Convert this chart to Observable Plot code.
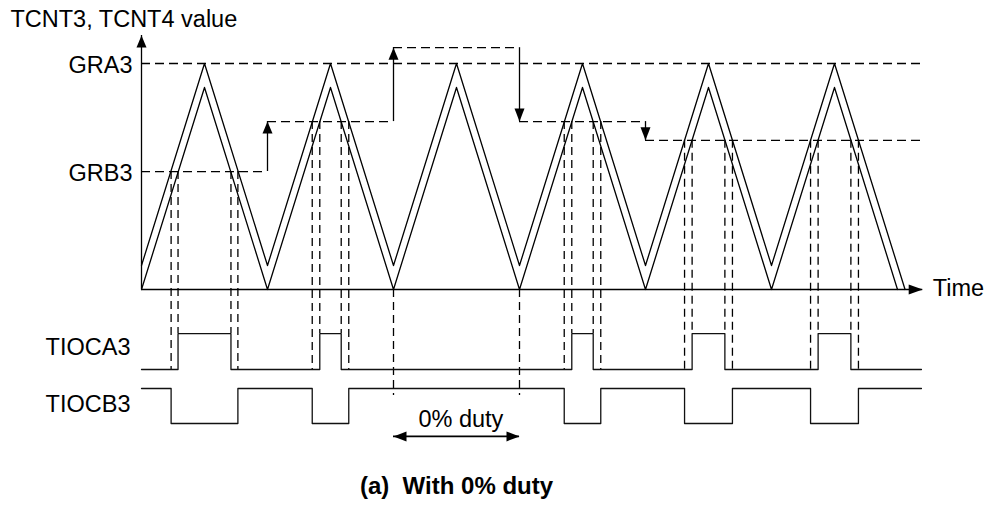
<!DOCTYPE html>
<html>
<head>
<meta charset="utf-8">
<script src="https://cdn.jsdelivr.net/npm/d3@7"></script>
<script src="https://cdn.jsdelivr.net/npm/@observablehq/plot@0.6"></script>
<style>
html, body { margin: 0; padding: 0; background: #fff; }
#chart svg { display: block; }
</style>
</head>
<body>
<div id="chart"></div>
<script>
// ---------- data (time in counter half-periods, value in % of GRA3) ----------
const GRA3 = 100;
const tcnt3Time  = [0, 1, 2, 3, 4, 5, 6, 7, 8, 9, 10, 11, 12.12];
const tcnt3Value = [10.6, 100, 10.6, 100, 10.6, 100, 10.6, 100, 10.6, 100, 10.6, 100, 0];
const tcnt4Time  = [0, 1, 2, 3, 4, 5, 6, 7, 8, 9, 10, 11, 12];
const tcnt4Value = [0, 89.4, 0, 89.4, 0, 89.4, 0, 89.4, 0, 89.4, 0, 89.4, 0];

const grbTime  = [0, 2, 4, 6, 8];
const grbValue = [52.2, 74.3, 107, 74.3, 66];

const levelLabels = ["GRA3", "GRB3"];
const levelValues = [GRA3, grbValue[0]];

// compare-match edges
const tiocaRise = [0.58, 2.83, 6.83, 8.74, 10.74];
const tiocaFall = [1.42, 3.17, 7.17, 9.26, 11.26];
const tiocbFall = [0.47, 2.71, 6.71, 8.62, 10.62];
const tiocbRise = [1.53, 3.29, 7.29, 9.38, 11.38];
const pulseLevel = [52.2, 74.3, 74.3, 66, 66];

const zeroDutyTime = [4, 6];
const signalNames = ["TIOCA3", "TIOCB3"];

const axisEnd = 12.4, dashEnd = 12.37, signalEnd = 12.38, yAxisTop = 112.4;

// ---------- layout constants for the logic rows ----------
const A_LOW = -35.4, A_HIGH = -19.5, B_HIGH = -43.8, B_LOW = -59.3;
const ZERO_DUTY_BOTTOM = -46.9, DUTY_ARROW_Y = -65;

// ---------- helpers ----------
function head(dir, len, wid) {
  const h = wid / 2;
  return {
    draw(ctx) {
      ctx.moveTo(0, 0);
      if (dir === "up")    { ctx.lineTo(-h, len);  ctx.lineTo(h, len); }
      if (dir === "down")  { ctx.lineTo(-h, -len); ctx.lineTo(h, -len); }
      if (dir === "right") { ctx.lineTo(-len, -h); ctx.lineTo(-len, h); }
      if (dir === "left")  { ctx.lineTo(len, -h);  ctx.lineTo(len, h); }
      ctx.closePath();
    }
  };
}

const tcnt3 = tcnt3Time.map((t, i) => ({t, v: tcnt3Value[i]}));
const tcnt4 = tcnt4Time.map((t, i) => ({t, v: tcnt4Value[i]}));

const grbSegs = grbTime.map((t, i) => ({t1: t, t2: i + 1 < grbTime.length ? grbTime[i + 1] : dashEnd, v: grbValue[i]}));
const grbSteps = grbTime.slice(1).map((t, i) => ({t, from: grbValue[i], to: grbValue[i + 1]}));

const tiocaPts = [{t: 0, v: A_LOW}];
tiocaRise.forEach((r, i) => { tiocaPts.push({t: r, v: A_HIGH}, {t: tiocaFall[i], v: A_LOW}); });
tiocaPts.push({t: signalEnd, v: A_LOW});

const tiocbPts = [{t: 0, v: B_HIGH}];
tiocbFall.forEach((f, i) => { tiocbPts.push({t: f, v: B_LOW}, {t: tiocbRise[i], v: B_HIGH}); });
tiocbPts.push({t: signalEnd, v: B_HIGH});

const guidesA = [];
tiocaRise.forEach((r, i) => { guidesA.push({t: r, v: pulseLevel[i]}, {t: tiocaFall[i], v: pulseLevel[i]}); });
const guidesB = [];
tiocbFall.forEach((f, i) => { guidesB.push({t: f, v: pulseLevel[i]}, {t: tiocbRise[i], v: pulseLevel[i]}); });

const FS = 23.5;
const DASH = "9,5";
const SW = 1.3;

const chart = Plot.plot({
  width: 993,
  height: 506,
  x: {domain: [0, 13], range: [141, 960], axis: null},
  y: {domain: [-95, 110], range: [503.7, 40.4], axis: null},
  style: {fontFamily: "'Liberation Sans', Arial, Helvetica, sans-serif", fontSize: FS + "px", color: "#000", background: "#fff"},
  marks: [
    // GRA3 reference line
    Plot.ruleY([GRA3], {x1: 0, x2: dashEnd, stroke: "#000", strokeWidth: SW, strokeDasharray: DASH}),
    // GRB3 buffer steps
    Plot.ruleY(grbSegs, {y: "v", x1: "t1", x2: "t2", stroke: "#000", strokeWidth: SW, strokeDasharray: DASH}),
    Plot.ruleX(grbSteps, {x: "t", y1: "from", y2: "to", stroke: "#000", strokeWidth: SW}),
    Plot.dot(grbSteps.filter(d => d.to > d.from), {x: "t", y: "to", symbol: head("up", 12, 10), fill: "#000", stroke: "none"}),
    Plot.dot(grbSteps.filter(d => d.to < d.from), {x: "t", y: "to", symbol: head("down", 13, 10), fill: "#000", stroke: "none"}),
    // guide lines down to the outputs
    Plot.ruleX(guidesA, {x: "t", y1: "v", y2: A_HIGH, stroke: "#000", strokeWidth: SW, strokeDasharray: "8,5"}),
    Plot.ruleX(guidesB, {x: "t", y1: "v", y2: A_LOW, stroke: "#000", strokeWidth: SW, strokeDasharray: "8,5"}),
    Plot.ruleX(zeroDutyTime, {y1: 0, y2: ZERO_DUTY_BOTTOM, stroke: "#000", strokeWidth: SW, strokeDasharray: "8,5"}),
    // counters
    Plot.line(tcnt3, {x: "t", y: "v", stroke: "#000", strokeWidth: SW}),
    Plot.line(tcnt4, {x: "t", y: "v", stroke: "#000", strokeWidth: SW}),
    // axes
    Plot.ruleX([0], {y1: 0, y2: yAxisTop, stroke: "#000", strokeWidth: SW}),
    Plot.dot([0], {x: 0, y: yAxisTop, symbol: head("up", 12, 10), fill: "#000", stroke: "none"}),
    Plot.ruleY([0], {x1: 0, x2: axisEnd, stroke: "#000", strokeWidth: SW}),
    Plot.dot([0], {x: axisEnd, y: 0, symbol: head("right", 14, 10), fill: "#000", stroke: "none"}),
    // output waveforms
    Plot.line(tiocaPts, {x: "t", y: "v", curve: "step-after", stroke: "#111", strokeWidth: SW}),
    Plot.line(tiocbPts, {x: "t", y: "v", curve: "step-after", stroke: "#111", strokeWidth: SW}),
    // 0% duty arrow
    Plot.ruleY([DUTY_ARROW_Y], {x1: zeroDutyTime[0], x2: zeroDutyTime[1], stroke: "#000", strokeWidth: 1.6}),
    Plot.dot([0], {x: zeroDutyTime[0], y: DUTY_ARROW_Y, symbol: head("left", 13, 10), fill: "#000", stroke: "none"}),
    Plot.dot([0], {x: zeroDutyTime[1], y: DUTY_ARROW_Y, symbol: head("right", 13, 10), fill: "#000", stroke: "none"}),
    // texts
    Plot.text(levelLabels, {x: 0, y: levelValues, text: d => d, dx: -9, dy: 2, textAnchor: "end", fontSize: FS, fill: "#000"}),
    Plot.text(["TCNT3, TCNT4 value"], {x: -2.08, y: 119.5, text: d => d, textAnchor: "start", fontSize: FS, fill: "#000"}),
    Plot.text(["Time"], {x: axisEnd, y: 0.3, text: d => d, dx: 10, textAnchor: "start", fontSize: FS, fill: "#000"}),
    Plot.text(signalNames, {x: 0, y: [-25.8, -51.0], text: d => d, dx: -11, textAnchor: "end", fontSize: FS, fill: "#000"}),
    Plot.text(["0% duty"], {x: 5.07, y: -57.7, text: d => d, textAnchor: "middle", fontSize: FS, fill: "#000"}),
    Plot.text(["(a)  With 0% duty"], {x: 5.0, y: -86.9, text: d => d, textAnchor: "middle", fontSize: 24, fontWeight: "bold", fill: "#000"})
  ]
});

document.getElementById("chart").appendChild(chart);
</script>
</body>
</html>
